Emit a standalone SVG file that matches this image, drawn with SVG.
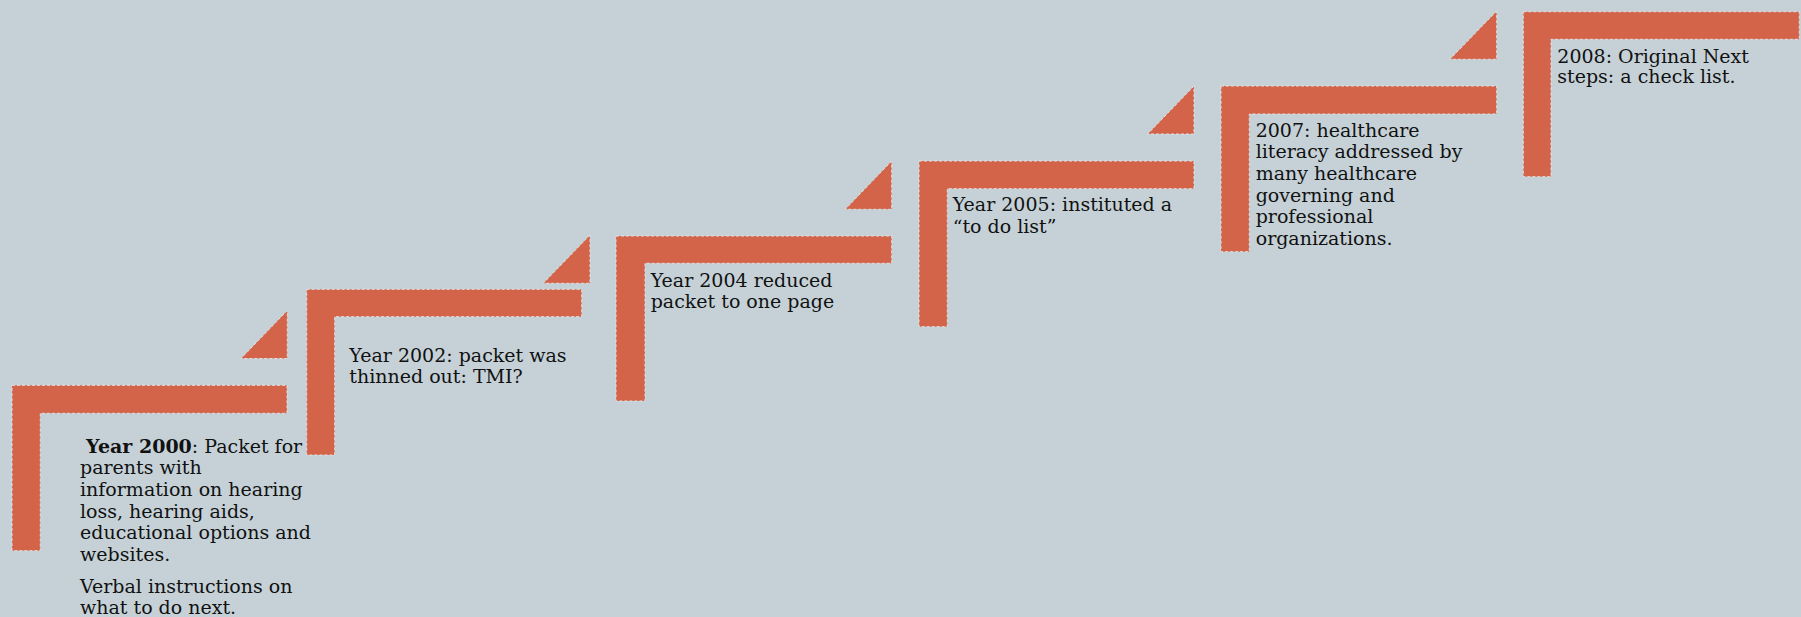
<svg xmlns="http://www.w3.org/2000/svg" width="1801" height="617" viewBox="0 0 1801 617">
<style>
.bg{fill:#C5D1D7}
.sh{fill:#D3644A;stroke:#E0E0E0;stroke-width:1;stroke-dasharray:3,2}
.tx{font-family:"DejaVu Serif","Liberation Serif",serif;font-size:19px;fill:#111}
.b{font-weight:bold}
</style>
<rect class="bg" x="0" y="0" width="1801" height="617"/>
<g id="step1">
<polygon class="sh" points="12,385.3 287,385.3 287,413.3 40.3,413.3 40.3,550.7 12,550.7"/>
<polygon class="sh" points="287.3,310.5 241,358.5 287.3,358.5"/>
<text class="tx"><tspan x="86" y="452.7"><tspan class="b">Year 2000</tspan>: Packet for</tspan><tspan x="80" y="474.3">parents with</tspan><tspan x="80" y="496">information on hearing</tspan><tspan x="80" y="517.7">loss, hearing aids,</tspan><tspan x="80" y="539.3">educational options and</tspan><tspan x="80" y="561">websites.</tspan><tspan x="80" y="592.7">Verbal instructions on</tspan><tspan x="80" y="613.5">what to do next.</tspan></text>
</g>
<g id="step2">
<polygon class="sh" points="306.7,289.3 581.7,289.3 581.7,316.7 334.7,316.7 334.7,455 306.7,455"/>
<polygon class="sh" points="590,235 543.3,283.3 590,283.3"/>
<text class="tx"><tspan x="349.3" y="361.7">Year 2002: packet was</tspan><tspan x="349.3" y="382.7">thinned out: TMI?</tspan></text>
</g>
<g id="step3">
<polygon class="sh" points="616,236 891.7,236 891.7,263.3 645,263.3 645,401 616,401"/>
<polygon class="sh" points="891.7,161 845.3,209.3 891.7,209.3"/>
<text class="tx"><tspan x="650.7" y="286.7">Year 2004 reduced</tspan><tspan x="650.7" y="308.3">packet to one page</tspan></text>
</g>
<g id="step4">
<polygon class="sh" points="919,161 1194,161 1194,188.7 947.3,188.7 947.3,326.7 919,326.7"/>
<polygon class="sh" points="1194,86 1147.7,134 1194,134"/>
<text class="tx"><tspan x="952.7" y="211">Year 2005: instituted a</tspan><tspan x="952.7" y="233.3">“to do list”</tspan></text>
</g>
<g id="step5">
<polygon class="sh" points="1221,86 1496.7,86 1496.7,114 1249.3,114 1249.3,251.7 1221,251.7"/>
<polygon class="sh" points="1496.7,11 1450,59.3 1496.7,59.3"/>
<text class="tx"><tspan x="1255.7" y="136.7">2007: healthcare</tspan><tspan x="1255.7" y="158.3">literacy addressed by</tspan><tspan x="1255.7" y="180">many healthcare</tspan><tspan x="1255.7" y="201.7">governing and</tspan><tspan x="1255.7" y="223.3">professional</tspan><tspan x="1255.7" y="245">organizations.</tspan></text>
</g>
<g id="step6">
<polygon class="sh" points="1523.3,11.7 1799.3,11.7 1799.3,39.3 1551,39.3 1551,176.7 1523.3,176.7"/>
<text class="tx"><tspan x="1557.3" y="62.7">2008: Original Next</tspan><tspan x="1557.3" y="83.3">steps: a check list.</tspan></text>
</g>
<g id="connectors"/>
</svg>
